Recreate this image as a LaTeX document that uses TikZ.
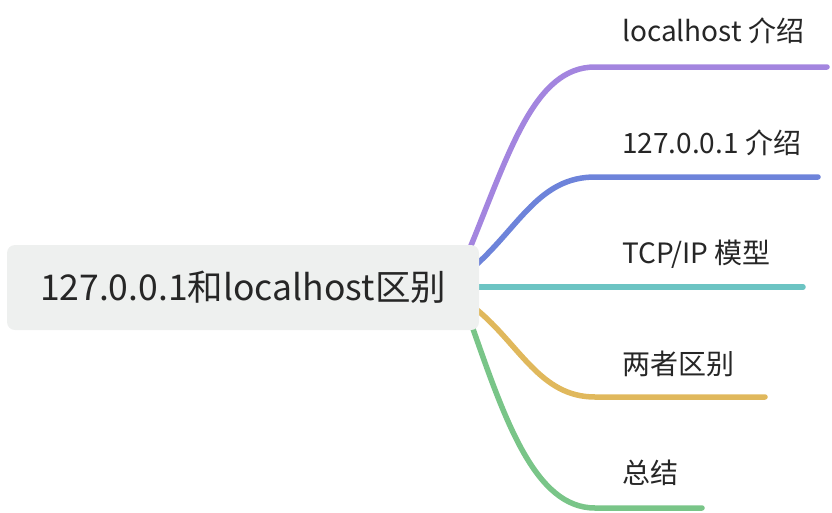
\documentclass[tikz,border=0pt]{standalone}
\usepackage{fontspec}
\setmainfont{Noto Sans CJK SC}
\definecolor{txt}{HTML}{262626}
\definecolor{rootbg}{HTML}{EEF0EF}
\definecolor{cpurple}{HTML}{A385DF}
\definecolor{cblue}{HTML}{6D83DA}
\definecolor{cteal}{HTML}{6CC4C3}
\definecolor{cyellow}{HTML}{E0B85C}
\definecolor{cgreen}{HTML}{79C588}
\begin{document}
\begin{tikzpicture}[x=1pt,y=-1pt,
  branch/.style={line width=5.5pt,line cap=round},
  leaf/.style={anchor=base west,inner sep=0pt,text=txt,font=\fontsize{28}{30}\selectfont},
  rootbox/.style={fill=rootbg,rounded corners=8pt,minimum width=472pt,minimum height=85pt,inner sep=0pt,text=txt,font=\fontsize{35.5}{40}\selectfont}]
\useasboundingbox (0,0) rectangle (832,512);
\coordinate (s1) at (470,248);
\coordinate (s2) at (476,265);
\coordinate (s3) at (476,287);
\coordinate (s4) at (476,309);
\coordinate (s5) at (472,326);
\coordinate (k1) at (595,67);
\coordinate (k2) at (595,177);
\coordinate (k4) at (595,397);
\coordinate (k5) at (595,508);
\coordinate (e1) at (827,67);
\coordinate (e2) at (818,177);
\coordinate (e3) at (803,287);
\coordinate (e4) at (765,397);
\coordinate (e5) at (702,508);
\draw[branch,cpurple] (s1) .. controls (510,150) and (535,67) .. (k1) -- (e1);
\draw[branch,cblue] (s2) .. controls (520,225) and (540,177) .. (k2) -- (e2);
\draw[branch,cteal] (s3) -- (e3);
\draw[branch,cyellow] (s4) .. controls (520,345) and (540,397) .. (k4) -- (e4);
\draw[branch,cgreen] (s5) .. controls (505,420) and (535,508) .. (k5) -- (e5);
\node[rootbox] (root) at (243,287.5) {127.0.0.1和localhost区别};
\node[leaf] (l1) at (622,41) {localhost 介绍};
\node[leaf] (l2) at (622,153) {127.0.0.1 介绍};
\node[leaf] (l3) at (622,263) {TCP/IP 模型};
\node[leaf] (l4) at (622,374) {两者区别};
\node[leaf] (l5) at (622,483) {总结};
\end{tikzpicture}
\end{document}
